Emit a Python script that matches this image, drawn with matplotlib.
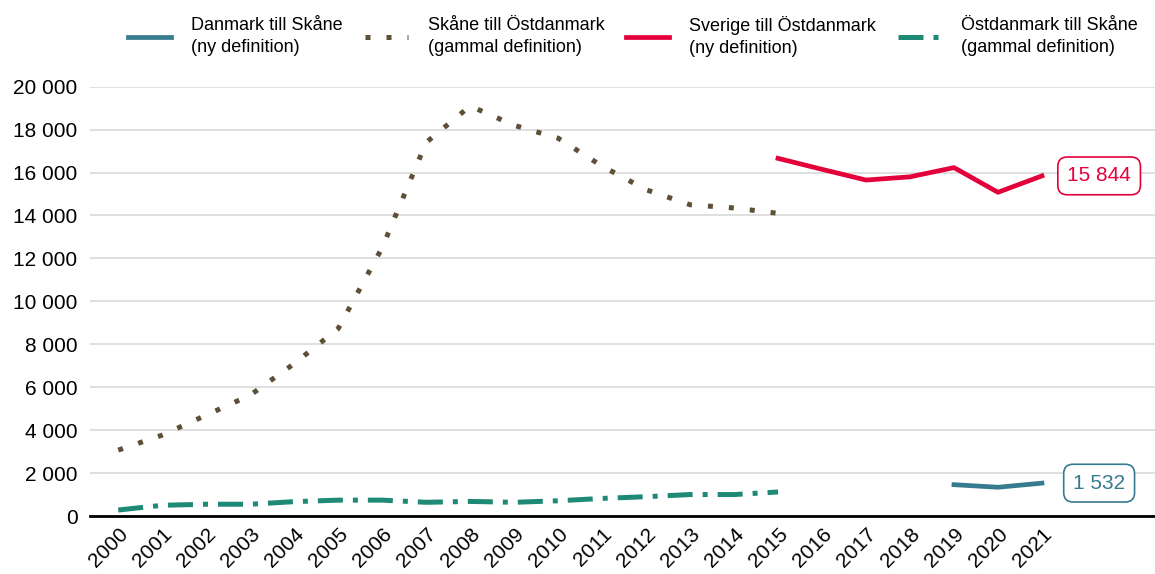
import numpy as np
import matplotlib.pyplot as plt

plt.rcParams['font.family'] = ['Liberation Sans', 'DejaVu Sans']

years_old = list(range(2000, 2016))
skane_ostdk_old = [3070, 3770, 4700, 5630, 7100, 8730, 12500, 17400, 19100,
                   18200, 17600, 16300, 15200, 14500, 14350, 14100]
ostdk_skane_old = [280, 500, 550, 550, 670, 740, 740, 640, 680,
                   640, 710, 820, 900, 1000, 1000, 1120]

years_sv = list(range(2015, 2022))
sverige_ostdk = [16660, 16150, 15650, 15800, 16230, 15080, 15844]

years_dk = [2019, 2020, 2021]
danmark_skane = [1460, 1340, 1532]

c_dk = '#367B8F'
c_dot = '#5E5038'
c_red = '#E4003A'
c_teal = '#1E8A76'

fig = plt.figure(figsize=(11.55, 5.74), dpi=100)
ax = fig.add_axes([0.078, 0.101, 0.922, 0.748])

ax.plot(years_dk, danmark_skane, color=c_dk, lw=3.4,
        label='Danmark till Skåne\n(ny definition)')
ax.plot(years_old, skane_ostdk_old, color=c_dot, lw=3.6, dashes=(1, 3.2),
        dash_capstyle='butt', label='Skåne till Östdanmark\n(gammal definition)')
ax.plot(years_sv, sverige_ostdk, color=c_red, lw=3.4,
        label='Sverige till Östdanmark\n(ny definition)')
ax.plot(years_old, ostdk_skane_old, color=c_teal, lw=3.6, dashes=(5, 2, 1, 2),
        dash_capstyle='butt', label='Östdanmark till Skåne\n(gammal definition)')

def fmt(v):
    return f'{v:,.0f}'.replace(',', ' ')

ax.annotate(fmt(sverige_ostdk[-1]), (2022.3, sverige_ostdk[-1]), ha='center', va='center',
            fontsize=15, color=c_red,
            bbox=dict(boxstyle='round,pad=0.45', fc='white', ec=c_red, lw=1.2))
ax.annotate(fmt(danmark_skane[-1]), (2022.3, danmark_skane[-1]), ha='center', va='center',
            fontsize=15, color=c_dk,
            bbox=dict(boxstyle='round,pad=0.45', fc='white', ec=c_dk, lw=1.2))

ax.set_xlim(1999.36, 2023.57)
ax.set_ylim(0, 20000)
yt = np.arange(0, 20001, 2000)
ax.set_yticks(yt)
ax.set_yticklabels([fmt(v) for v in yt], fontsize=15)
ax.set_xticks(list(range(2000, 2022)))
ax.set_xticklabels([str(y) for y in range(2000, 2022)], fontsize=15,
                   rotation=45, ha='right', rotation_mode='anchor')
ax.tick_params(axis='both', length=0, pad=9)
ax.tick_params(axis='x', pad=6)
ax.grid(axis='y', color='#d9d9d9', lw=1.2)
ax.set_axisbelow(True)
for s in ['left', 'right', 'top']:
    ax.spines[s].set_visible(False)
ax.spines['bottom'].set_color('black')
ax.spines['bottom'].set_linewidth(2)

leg = fig.legend(loc='upper center', bbox_to_anchor=(0.548, 1.0), ncol=4, frameon=False,
                 fontsize=13, handlelength=2.4, columnspacing=1.2, handletextpad=1.1)
for t in leg.get_texts():
    t.set_linespacing(1.4)

fig.savefig('out.png', dpi=100)
